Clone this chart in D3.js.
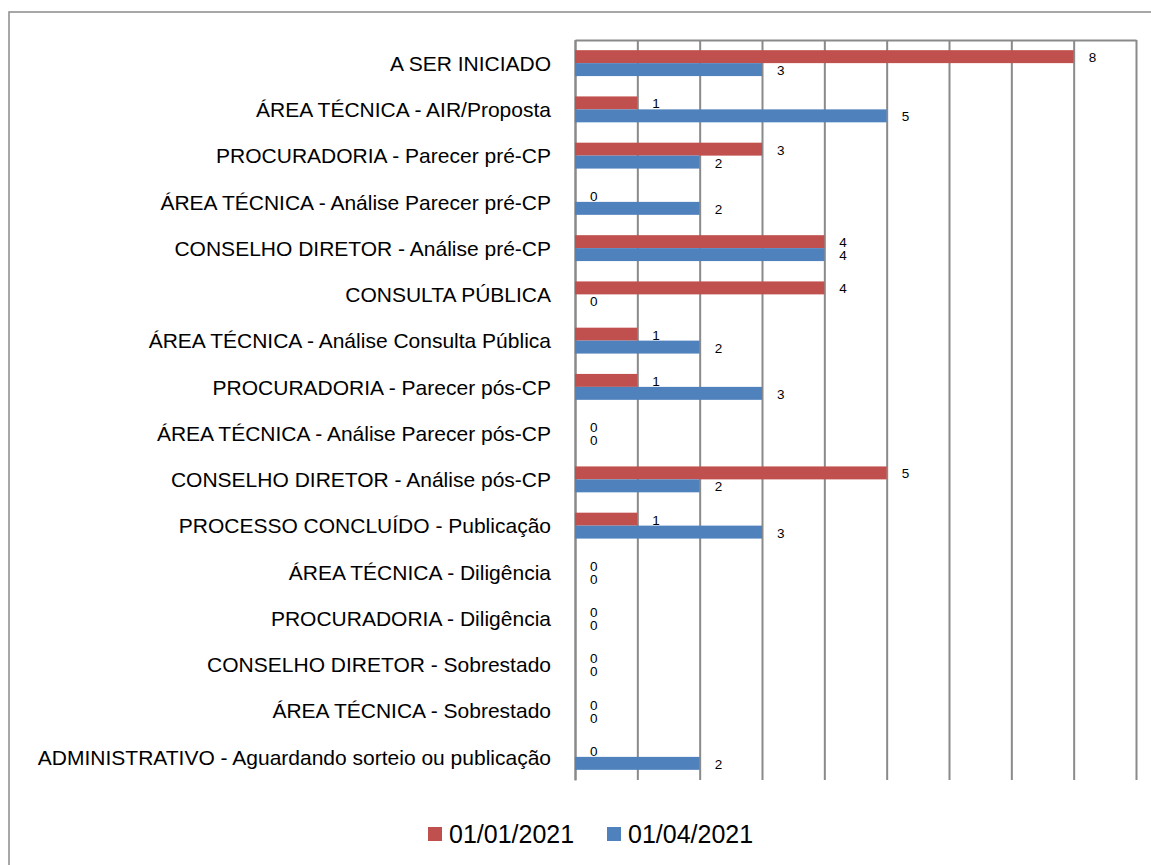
<!DOCTYPE html>
<html>
<head>
<meta charset="utf-8">
<script src="https://cdn.jsdelivr.net/npm/d3@7"></script>
<style>
  body { margin: 0; background: #fff; }
  svg { display: block; font-family: "Liberation Sans", Arial, sans-serif; }
</style>
</head>
<body>
<svg id="chart" width="1151" height="865"></svg>
<script>
// categories, top to bottom
const categories = [
  "A SER INICIADO",
  "ÁREA TÉCNICA - AIR/Proposta",
  "PROCURADORIA - Parecer pré-CP",
  "ÁREA TÉCNICA - Análise Parecer pré-CP",
  "CONSELHO DIRETOR - Análise pré-CP",
  "CONSULTA PÚBLICA",
  "ÁREA TÉCNICA - Análise Consulta Pública",
  "PROCURADORIA - Parecer pós-CP",
  "ÁREA TÉCNICA - Análise Parecer pós-CP",
  "CONSELHO DIRETOR - Análise pós-CP",
  "PROCESSO CONCLUÍDO - Publicação",
  "ÁREA TÉCNICA - Diligência",
  "PROCURADORIA - Diligência",
  "CONSELHO DIRETOR - Sobrestado",
  "ÁREA TÉCNICA - Sobrestado",
  "ADMINISTRATIVO - Aguardando sorteio ou publicação"
];
const seriesNames = ["01/01/2021", "01/04/2021"];
const jan2021 = [8, 1, 3, 0, 4, 4, 1, 1, 0, 5, 1, 0, 0, 0, 0, 0];
const abr2021 = [3, 5, 2, 2, 4, 0, 2, 3, 0, 2, 3, 0, 0, 0, 0, 2];
const xTicks = [0, 1, 2, 3, 4, 5, 6, 7, 8, 9];
const colors = ["#C0504D", "#4F81BD"];

const svg = d3.select("#chart");

// outer chart frame (cut by the picture on right/bottom)
svg.append("rect")
  .attr("x", 9).attr("y", 12)
  .attr("width", 1200).attr("height", 900)
  .attr("fill", "none")
  .attr("stroke", "#8a8a8a")
  .attr("stroke-width", 1.5);

const x = d3.scaleLinear().domain([0, 9]).range([575, 1136]);
const y = d3.scaleBand().domain(categories).range([40, 780])
  .paddingInner(0.44).paddingOuter(0.22);
const ySub = d3.scaleBand().domain(seriesNames).range([0, y.bandwidth()]);

// vertical gridlines + top line
const gridAxis = svg.append("g")
  .attr("transform", "translate(0,40)")
  .call(d3.axisTop(x).tickValues(xTicks).tickSize(-740).tickSizeOuter(0).tickFormat(""));
gridAxis.selectAll("line").attr("stroke", "#8a8a8a").attr("stroke-width", 2);
gridAxis.select(".domain").attr("stroke", "#8a8a8a").attr("stroke-width", 2);

// category axis
const catAxis = svg.append("g")
  .attr("transform", "translate(575,0)")
  .call(d3.axisLeft(y).tickSize(0).tickPadding(24));
catAxis.select(".domain").attr("stroke", "#8a8a8a").attr("stroke-width", 2);
catAxis.selectAll("text")
  .attr("font-size", 21)
  .attr("font-family", "'Liberation Sans', Arial, sans-serif")
  .attr("fill", "#000")
  .attr("dy", "0.37em");

const rows = categories.map((c, i) => ({ cat: c, vals: [jan2021[i], abr2021[i]] }));

const groups = svg.append("g").selectAll("g")
  .data(rows)
  .join("g")
  .attr("transform", d => `translate(0,${y(d.cat)})`);

groups.selectAll("rect")
  .data(d => d.vals.map((v, k) => ({ s: seriesNames[k], v, k })))
  .join("rect")
  .attr("x", x(0))
  .attr("y", d => ySub(d.s))
  .attr("width", d => x(d.v) - x(0))
  .attr("height", ySub.bandwidth())
  .attr("fill", d => colors[d.k]);

groups.selectAll("text")
  .data(d => d.vals.map((v, k) => ({ s: seriesNames[k], v, k })))
  .join("text")
  .attr("x", d => x(d.v) + 15)
  .attr("y", d => ySub(d.s) + ySub.bandwidth() / 2 + 1)
  .attr("dominant-baseline", "central")
  .attr("font-size", 13.5)
  .attr("fill", "#000")
  .text(d => d.v);

// legend
const legendX = [428, 607];
const legend = svg.append("g").selectAll("g")
  .data(seriesNames)
  .join("g")
  .attr("transform", (d, i) => `translate(${legendX[i]},827)`);
legend.append("rect")
  .attr("width", 14).attr("height", 14)
  .attr("fill", (d, i) => colors[i]);
legend.append("text")
  .attr("x", 21).attr("y", 16)
  .attr("font-size", 25)
  .attr("fill", "#000")
  .text(d => d);
</script>
</body>
</html>
